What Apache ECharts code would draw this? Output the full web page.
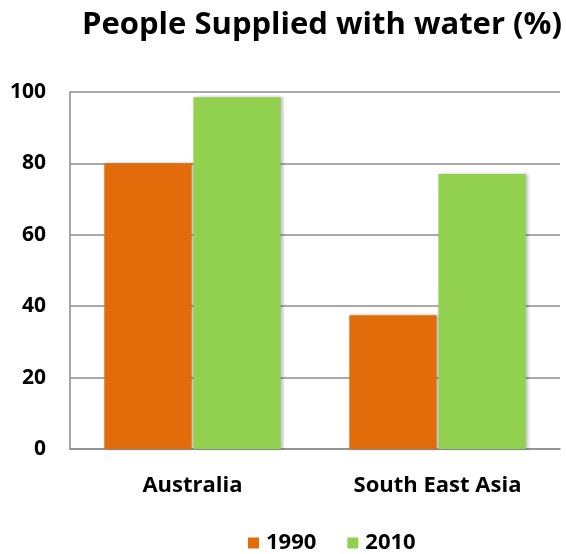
<!DOCTYPE html>
<html>
<head>
<meta charset="utf-8">
<script src="https://cdn.jsdelivr.net/npm/echarts@6/dist/echarts.min.js"></script>
<style>html,body{margin:0;padding:0;background:#fff;}#c{width:566px;height:554px;}</style>
</head>
<body>
<div id="c"></div>
<script>
const categories = ['Australia', 'South East Asia'];
const seriesNames = ['1990', '2010'];
const values1990 = [80, 37.5];
const values2010 = [98.5, 77];
const yTicks = [0, 20, 40, 60, 80, 100];

const FONT = 'Open Sans';
const chart = echarts.init(document.getElementById('c'), null, {renderer: 'canvas'});
chart.setOption({
  animation: false,
  backgroundColor: '#fff',
  title: {
    text: 'People Supplied with water (%)',
    left: 317, top: 5, textAlign: 'center',
    textStyle: {fontFamily: FONT, fontWeight: 'bold', fontSize: 31, color: '#000'}
  },
  legend: {
    data: seriesNames,
    top: 527, left: 243,
    itemWidth: 11, itemHeight: 11, itemGap: 31,
    icon: 'rect',
    textStyle: {fontFamily: FONT, fontWeight: 'bold', fontSize: 22, color: '#000', padding: [0, 0, 0, 2]}
  },
  grid: {left: 70, right: 6, top: 92, bottom: 105},
  xAxis: {
    type: 'category', data: categories,
    axisLine: {lineStyle: {color: '#8c8c8c', width: 1.5}},
    axisTick: {show: false},
    axisLabel: {fontFamily: FONT, fontWeight: 'bold', fontSize: 22, color: '#000', margin: 26}
  },
  yAxis: {
    type: 'value', min: yTicks[0], max: yTicks[yTicks.length - 1], interval: 20,
    axisLine: {show: true, lineStyle: {color: '#8c8c8c', width: 1.5}},
    axisTick: {show: false},
    splitLine: {lineStyle: {color: '#8c8c8c', width: 1.5}},
    axisLabel: {fontFamily: FONT, fontWeight: 'bold', fontSize: 21, color: '#000', margin: 24}
  },
  series: [
    {name: seriesNames[0], type: 'bar', data: values1990, barGap: '2%', barCategoryGap: '28%',
     itemStyle: {color: '#e36c0a', shadowColor: 'rgba(0,0,0,0.25)', shadowBlur: 3, shadowOffsetX: 2}},
    {name: seriesNames[1], type: 'bar', data: values2010, barGap: '2%', barCategoryGap: '28%',
     itemStyle: {color: '#92d050', shadowColor: 'rgba(0,0,0,0.25)', shadowBlur: 3, shadowOffsetX: 2}}
  ]
});
</script>
</body>
</html>
